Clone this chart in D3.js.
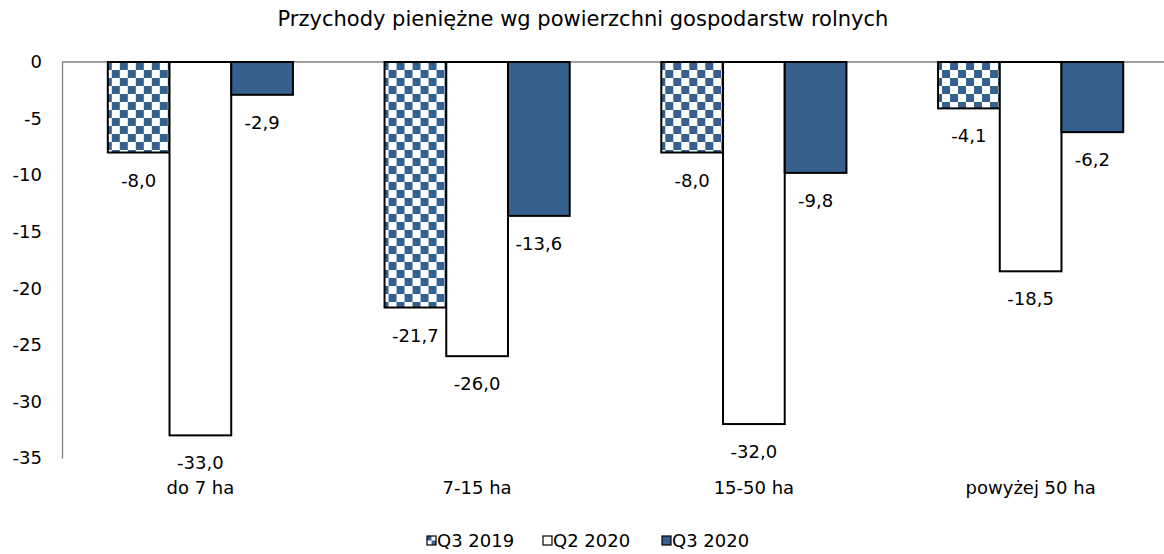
<!DOCTYPE html>
<html><head><meta charset="utf-8">
<script src="https://cdn.jsdelivr.net/npm/d3@7"></script>
<style>body{margin:0;background:#fff;} text{font-family:"DejaVu Sans",sans-serif;fill:#000;}</style>
</head><body>
<svg id="c" width="1164" height="554"></svg>
<script>
const title = "Przychody pieniężne wg powierzchni gospodarstw rolnych";
const categories = ["do 7 ha", "7-15 ha", "15-50 ha", "powyżej 50 ha"];
const seriesNames = ["Q3 2019", "Q2 2020", "Q3 2020"];
const q3_2019 = [-8.0, -21.7, -8.0, -4.1];
const q2_2020 = [-33.0, -26.0, -32.0, -18.5];
const q3_2020 = [-2.9, -13.6, -9.8, -6.2];
const yTicks = [0, -5, -10, -15, -20, -25, -30, -35];

const seriesValues = [q3_2019, q2_2020, q3_2020];
const blue = "#36618f";
const fills = ["url(#checker)", "#ffffff", blue];

const svg = d3.select("#c");
const defs = svg.append("defs");
const p = defs.append("pattern").attr("id","checker").attr("patternUnits","userSpaceOnUse")
  .attr("width",16).attr("height",16).attr("x",108).attr("y",62);
p.append("rect").attr("width",16).attr("height",16).attr("fill","#fff");
p.append("rect").attr("width",8).attr("height",8).attr("fill",blue);
p.append("rect").attr("x",8).attr("y",8).attr("width",8).attr("height",8).attr("fill",blue);
const p2 = defs.append("pattern").attr("id","checkerSmall").attr("patternUnits","userSpaceOnUse")
  .attr("width",9).attr("height",9).attr("x",427).attr("y",536);
p2.append("rect").attr("width",9).attr("height",9).attr("fill","#fff");
p2.append("rect").attr("width",4.5).attr("height",4.5).attr("fill",blue);
p2.append("rect").attr("x",4.5).attr("y",4.5).attr("width",4.5).attr("height",4.5).attr("fill",blue);

const mLeft = 62, mRight = 1169, mTop = 62, mBottom = 458;
const y = d3.scaleLinear().domain([0, -35]).range([mTop, mBottom]);
const x0 = d3.scaleBand().domain(categories).range([mLeft, mRight]).paddingInner(0.331).paddingOuter(0.1655);
const x1 = d3.scaleBand().domain(seriesNames).range([0, x0.bandwidth()]);

svg.append("text").attr("x", 583).attr("y", 26).attr("text-anchor","middle")
  .style("font-size","21px").text(title);

// y axis
const yAxis = d3.axisLeft(y).tickValues(yTicks).tickSize(0).tickPadding(20).tickFormat(d => d3.format("d")(d).replace("−","-"));
const ga = svg.append("g").attr("transform", `translate(${mLeft},0)`).call(yAxis);
ga.select(".domain").attr("stroke","#808080").attr("stroke-width",1.3);
ga.selectAll("text").style("font-size","18px").style("font-family","DejaVu Sans");

// zero line
svg.append("line").attr("x1",mLeft).attr("x2",mRight).attr("y1",y(0)).attr("y2",y(0))
  .attr("stroke","#808080").attr("stroke-width",1.3);

const groups = svg.append("g").selectAll("g").data(categories).join("g")
  .attr("transform", d => `translate(${x0(d)},0)`);

seriesNames.forEach((s, si) => {
  groups.append("rect")
    .attr("x", x1(s))
    .attr("y", y(0))
    .attr("width", x1.bandwidth())
    .attr("height", (d, i) => y(seriesValues[si][i]) - y(0))
    .attr("fill", fills[si])
    .attr("stroke", "#000").attr("stroke-width", 2);
  groups.append("text")
    .attr("x", x1(s) + x1.bandwidth()/2)
    .attr("y", (d, i) => y(seriesValues[si][i]) + 34)
    .attr("text-anchor","middle").style("font-size","18px")
    .text((d, i) => d3.format(".1f")(seriesValues[si][i]).replace(".", ",").replace("−","-"));
});

// category labels
svg.append("g").selectAll("text").data(categories).join("text")
  .attr("x", d => x0(d) + x0.bandwidth()/2).attr("y", 494)
  .attr("text-anchor","middle").style("font-size","18px").text(d => d);

// legend
const legX = [427, 543, 662];
const legFills = ["url(#checkerSmall)", "#fff", blue];
seriesNames.forEach((s, i) => {
  svg.append("rect").attr("x", legX[i]).attr("y", 536).attr("width", 9).attr("height", 9)
    .attr("fill", legFills[i]).attr("stroke","#000").attr("stroke-width",1.2);
  svg.append("text").attr("x", legX[i] + 10).attr("y", 547).style("font-size","18px").text(s);
});
</script>
</body></html>
